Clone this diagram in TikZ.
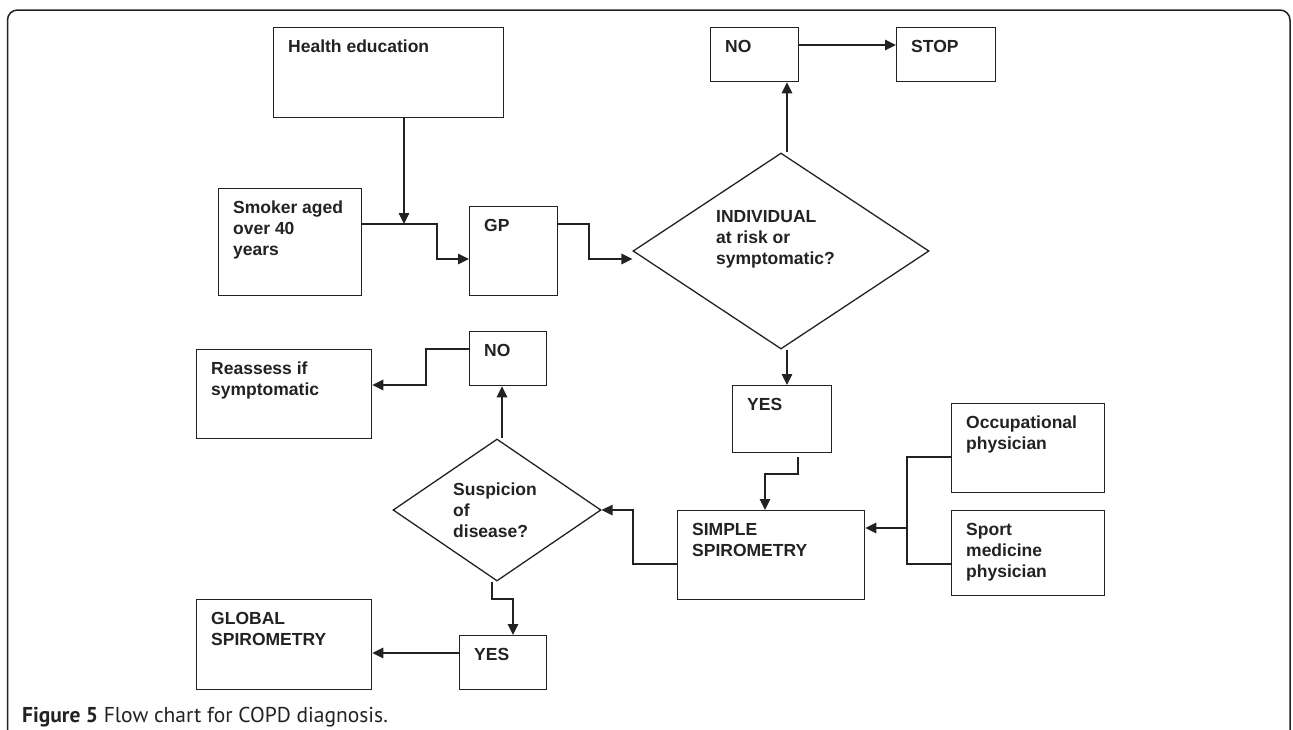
\documentclass[tikz,border=0pt]{standalone}
\usepackage{fontspec}
\setmainfont{Liberation Sans}
\newfontfamily\capfont{PT Sans}
\usetikzlibrary{arrows.meta,shapes.geometric}
\definecolor{ink}{HTML}{222222}
\newcommand\ml[1]{\begin{tabular}[t]{@{}l@{}}#1\end{tabular}}
\tikzset{
  boxst/.style={draw=ink, line width=1.3pt, inner sep=0pt, anchor=north west},
  dia/.style={draw=ink, line width=1.3pt, diamond, inner sep=0pt},
  txt/.style={inner sep=0pt, anchor=base west, text=ink,
    font=\fontsize{17.5}{21}\selectfont\bfseries},
  con/.style={draw=ink, line width=1.5pt},
  arr/.style={con, -{Triangle[length=11pt,width=10.5pt]}},
  frame/.style={draw=ink, line width=1.5pt, rounded corners=10pt}
}
\newcommand\bx[6]{%
  \node[boxst, minimum width={(#4-#2)*1pt}, minimum height={(#5-#3)*1pt}] (#1) at (#2,#3) {};
  \node[txt] (#1t) at ({#2+15},{#3+25}) {\ml{#6}};
}
\begin{document}
\begin{tikzpicture}[x=1pt,y=-1pt]
\useasboundingbox (0,0) rectangle (1293,729);
\draw[frame] (7.5,760) -- (7.5,10) -- (1290,10) -- (1290,760);

% boxes
\bx{he}{273}{27}{503}{117}{Health education}
\bx{sm}{218}{188}{361}{295}{Smoker aged\\over 40\\years}
\bx{gp}{469}{206}{557}{295}{GP}
\bx{noa}{710}{27}{798}{81}{NO}
\bx{stop}{896}{27}{995}{81}{STOP}
\bx{yesa}{732}{385}{831}{452}{YES}
\bx{ss}{677}{510}{864}{599}{SIMPLE\\SPIROMETRY}
\bx{occ}{951}{403}{1104}{492}{Occupational\\physician}
\bx{sport}{951}{510}{1104}{595}{Sport\\medicine\\physician}
\bx{rea}{196}{349}{371}{438}{Reassess if\\symptomatic}
\bx{nob}{469}{331}{546}{385}{NO}
\bx{yesb}{459}{635}{546}{689}{YES}
\bx{glob}{196}{599}{371}{689}{GLOBAL\\SPIROMETRY}

% diamonds
\node[dia, minimum width=296pt, minimum height=196pt] (d1) at (781,251) {};
\node[txt] (d1t) at (716,222) {\ml{INDIVIDUAL\\at risk or\\symptomatic?}};
\node[dia, minimum width=208pt, minimum height=142pt] (d2) at (497,510) {};
\node[txt] (d2t) at (453,495) {\ml{Suspicion\\of\\disease?}};

% helper coordinates
\coordinate (j1) at (404,224);
\coordinate (b1) at (437,259);
\coordinate (b2) at (589,259);
\coordinate (k1) at (787,0);
\coordinate (k2) at (0,45);
\coordinate (y1s) at (798,457);
\coordinate (y1b) at (765,474);
\coordinate (br) at (907,528);
\coordinate (bl) at (633,510);
\coordinate (nb) at (426,385);
\coordinate (dd) at (492,599);
\coordinate (ye) at (513,0);

% connectors
\draw[arr] (he.south -| j1) -- (j1);
\draw[arr] (sm.east |- j1) -| (b1) -- (gp.west |- b1);
\draw[arr] (gp.east |- j1) -| (b2) -- (d1.west |- b2);
\draw[arr] (d1.north -| k1) -- (noa.south -| k1);
\draw[arr] (noa.east |- k2) -- (stop.west |- k2);
\draw[arr] (d1.south -| k1) -- (yesa.north -| k1);
\draw[arr] (y1s) |- (y1b) -- (ss.north -| y1b);
\draw[con] (occ.west |- 0,457) -| (br) |- (sport.west |- 0,564);
\draw[arr] (br) -- (ss.east |- br);
\draw[arr] (ss.west |- 0,564) -| (bl) -- (d2.east);
\draw[arr] (d2.north -| 502,0) -- (nob.south -| 502,0);
\draw[arr] (nob.west |- 0,349) -| (nb) -- (rea.east |- nb);
\draw[arr] (d2.south -| dd) -- (dd) -| (yesb.north -| ye);
\draw[arr] (yesb.west |- 0,653) -- (glob.east |- 0,653);

% caption
\node[inner sep=0pt, anchor=base west, text=ink, font=\capfont\fontsize{21.5}{24}\selectfont] (cap) at (22,722)
  {\textbf{Figure 5} Flow chart for COPD diagnosis.};
\end{tikzpicture}
\end{document}
